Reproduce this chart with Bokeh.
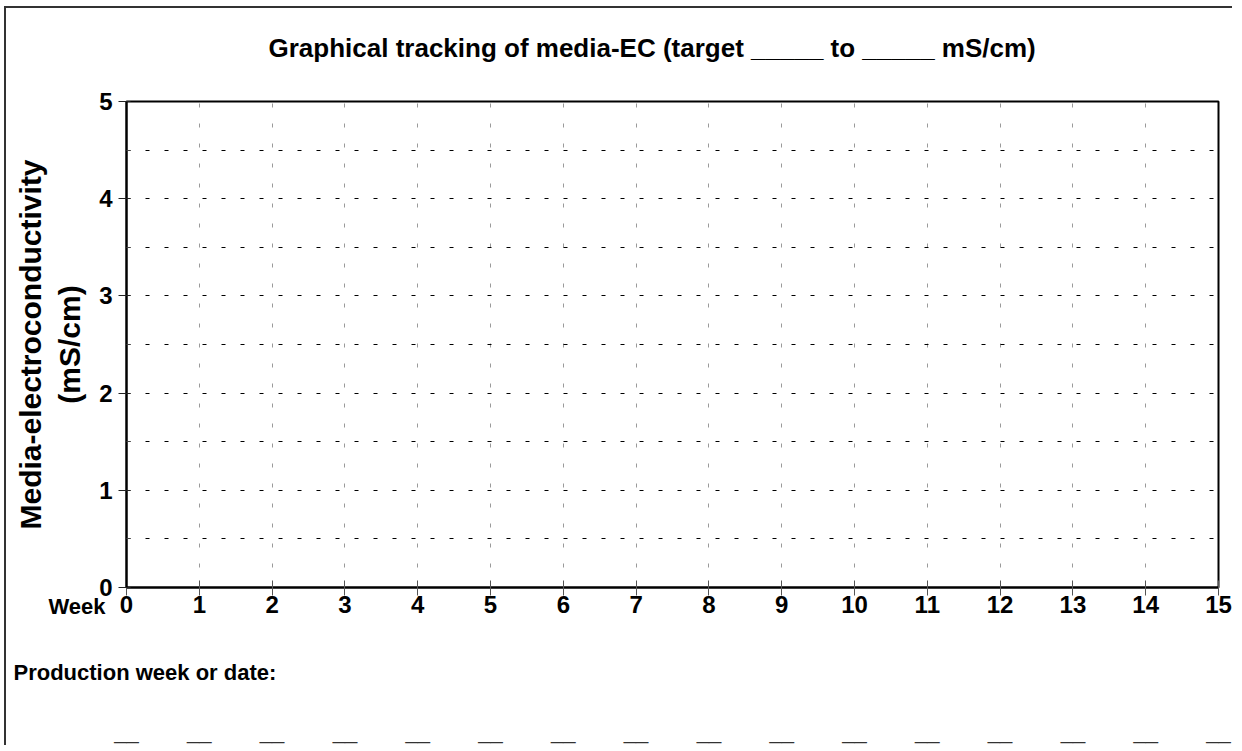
from bokeh.plotting import figure
from bokeh.models import FixedTicker, Range1d, Title, LinearAxis
from bokeh.embed import file_html
from bokeh.resources import INLINE

# ---- data ----
weeks = list(range(16))                       # 0 .. 15
y_ticks = [0, 1, 2, 3, 4, 5]
y_half = [0.5, 1.5, 2.5, 3.5, 4.5]
y_grid = [0.5, 1, 1.5, 2, 2.5, 3, 3.5, 4, 4.5]
x_grid = list(range(1, 15))
blank_entries = ["__"] * len(weeks)

title_text = "Graphical tracking of media-EC (target _____ to _____ mS/cm)"
ylabel_text = "Media-electroconductivity\n(mS/cm)"
week_text = "Week"
prod_text = "Production week or date:"

FONT = "Liberation Sans"
W, H = 1228, 739

p = figure(width=W, height=H,
           x_range=Range1d(weeks[0], weeks[-1]), y_range=Range1d(y_ticks[0], y_ticks[-1]),
           output_backend="svg", toolbar_location=None, title=None,
           min_border_left=120, min_border_right=16,
           min_border_top=93, min_border_bottom=160)
p.margin = (6, 0, 0, 4)

p.background_fill_color = "white"
p.border_fill_color = "white"
p.outline_line_color = "black"
p.outline_line_width = 2
p.styles = {"border-left": "2px solid #333", "border-top": "2px solid #333"}

# axes
p.xaxis.ticker = FixedTicker(ticks=weeks)
p.yaxis.ticker = FixedTicker(ticks=y_ticks, minor_ticks=y_half)
for ax in (p.xaxis[0], p.yaxis[0]):
    ax.axis_line_color = "black"
    ax.axis_line_width = 2
    ax.major_label_text_font = FONT
    ax.major_label_text_font_style = "bold"
    ax.major_label_text_font_size = "24px"
    ax.major_label_text_color = "black"

p.xaxis.major_tick_in = 7
p.xaxis.major_tick_out = 8
p.xaxis.major_tick_line_color = "#555555"
p.xaxis.minor_tick_line_color = None
p.xaxis.major_label_standoff = 0

p.yaxis.major_tick_in = 4
p.yaxis.major_tick_out = 8
p.yaxis.major_tick_line_color = "#222222"
p.yaxis.minor_tick_in = 4
p.yaxis.minor_tick_out = 0
p.yaxis.minor_tick_line_color = "#444444"
p.yaxis.major_label_standoff = 6

p.yaxis.axis_label = ylabel_text
p.yaxis.axis_label_text_font = FONT
p.yaxis.axis_label_text_font_style = "bold"
p.yaxis.axis_label_text_font_size = "30px"
p.yaxis.axis_label_text_color = "black"
p.yaxis.axis_label_standoff = 10

# grids
p.ygrid.ticker = FixedTicker(ticks=y_grid)
p.ygrid.grid_line_color = "black"
p.ygrid.grid_line_dash = "4 15"
p.ygrid.grid_line_width = 1
p.xgrid.ticker = FixedTicker(ticks=x_grid)
p.xgrid.grid_line_color = "#9a9a9a"
p.xgrid.grid_line_dash = "4 16"
p.xgrid.grid_line_width = 1


def spacer(gap):
    # an invisible one-space title used only to reserve vertical room
    return Title(text=" ", text_font_size="1px", standoff=gap, text_color="white")


# title (above): spacer nearest the frame, then the title
p.add_layout(spacer(36), "above")
p.add_layout(Title(text=title_text, align="left", offset=142, standoff=0,
                   text_font=FONT, text_font_style="bold", text_font_size="26px",
                   text_color="black"), "above")

# "Week" on the tick-label row (pulled up into it)
p.add_layout(Title(text=week_text, align="left", offset=-78, standoff=-44,
                   vertical_align="top",
                   text_font=FONT, text_font_style="bold", text_font_size="22px",
                   text_color="black"), "below")

# "Production week or date:"
p.add_layout(spacer(39), "below")
p.add_layout(Title(text=prod_text, align="left", offset=-113, standoff=0,
                   text_font=FONT, text_font_style="bold", text_font_size="22px",
                   text_color="black"), "below")

# blank entry lines under each week: an axis whose labels are "__"
blank_axis = LinearAxis(ticker=FixedTicker(ticks=weeks),
                        major_label_overrides={w: t for w, t in zip(weeks, blank_entries)},
                        axis_line_color=None, major_tick_line_color=None,
                        minor_tick_line_color=None, major_tick_out=0, major_tick_in=0,
                        major_label_standoff=34,
                        major_label_text_font=FONT, major_label_text_font_size="22px",
                        major_label_text_color="#333333")
p.add_layout(blank_axis, "below")

open("out.html", "w").write(file_html(p, INLINE))
